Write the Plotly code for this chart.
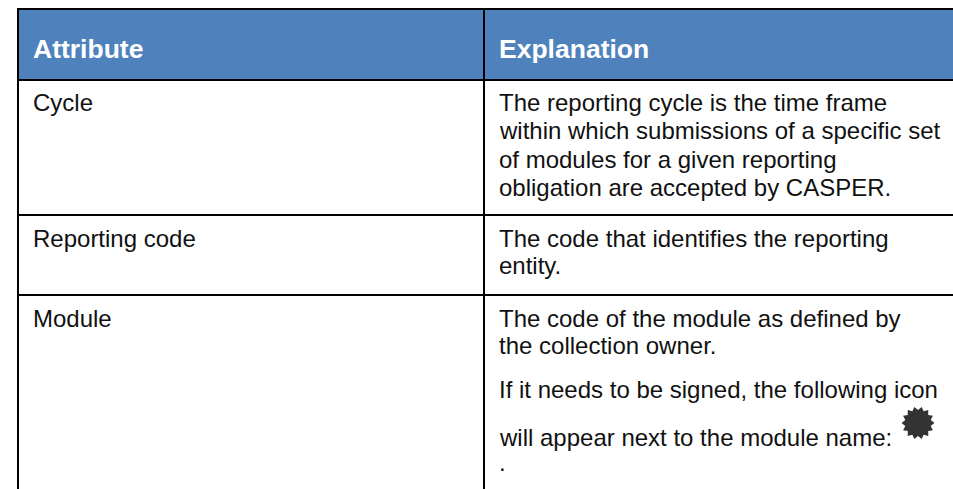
import math
import plotly.graph_objects as go

W, H = 953, 489
headers = ["Attribute", "Explanation"]
attributes = ["Cycle", "Reporting code", "Module"]
explanations = [
    ["The reporting cycle is the time frame", "within which submissions of a specific set",
     "of modules for a given reporting", "obligation are accepted by CASPER."],
    ["The code that identifies the reporting", "entity."],
    ["The code of the module as defined by", "the collection owner."],
]
notes = ["If it needs to be signed, the following icon", "will appear next to the module name:", "."]

X_LEFT, X_MID, X_RIGHT = 18, 484, 953
Y_TOP, Y_HEAD, Y_R1, Y_R2 = 9, 80, 215, 295
TX1, TX2 = 30.5, 496.5
FONT = "Liberation Sans"

fig = go.Figure()
shapes = [dict(type="rect", x0=X_LEFT, x1=X_RIGHT, y0=Y_TOP, y1=Y_HEAD,
               fillcolor="#4F81BD", line_width=0, layer="below")]
for y in (Y_TOP, Y_HEAD, Y_R1, Y_R2):
    shapes.append(dict(type="line", x0=X_LEFT - 1, x1=X_RIGHT, y0=y, y1=y, line=dict(color="black", width=2)))
for x in (X_LEFT, X_MID):
    shapes.append(dict(type="line", x0=x, x1=x, y0=Y_TOP, y1=H, line=dict(color="black", width=2)))

# badge icon
cx, cy, n = 918, 423, 14
pts = []
for i in range(2 * n):
    r = 16.5 if i % 2 == 0 else 13
    a = math.pi * i / n
    pts.append(f"{cx + r * math.cos(a):.1f},{cy + r * math.sin(a):.1f}")
shapes.append(dict(type="path", path="M" + "L".join(pts) + "Z", fillcolor="#333333", line_width=0))

ann = []
def text(x, y, s, size=24, bold=False, color="#111111"):
    ann.append(dict(x=x, y=y, text=f"<b>{s}</b>" if bold else s, xref="x", yref="y", showarrow=False,
                    xanchor="left", yanchor="middle", font=dict(family=FONT, size=size, color=color)))

text(TX1, 49, headers[0], 26.5, True, "white")
text(TX2, 49, headers[1], 26.5, True, "white")
for s, y in zip(attributes, (102.5, 238.5, 318.5)):
    text(TX1, y, s)
for lines, y0, dy in zip(explanations, (102.5, 238.5, 318.5), (28.4, 27, 27)):
    for i, s in enumerate(lines):
        text(TX2, y0 + i * dy, s)
for s, y in zip(notes, (389, 437, 462)):
    text(TX2, y, s)

fig.update_layout(
    width=W, height=H, margin=dict(l=0, r=0, t=0, b=0), paper_bgcolor="white", plot_bgcolor="white",
    xaxis=dict(range=[0, W], visible=False, fixedrange=True),
    yaxis=dict(range=[H, 0], visible=False, fixedrange=True),
    shapes=shapes, annotations=ann, showlegend=False,
)
fig.write_html("out.html", config=dict(displayModeBar=False),
               post_script="document.body.style.margin='0';document.body.style.overflow='hidden';")
